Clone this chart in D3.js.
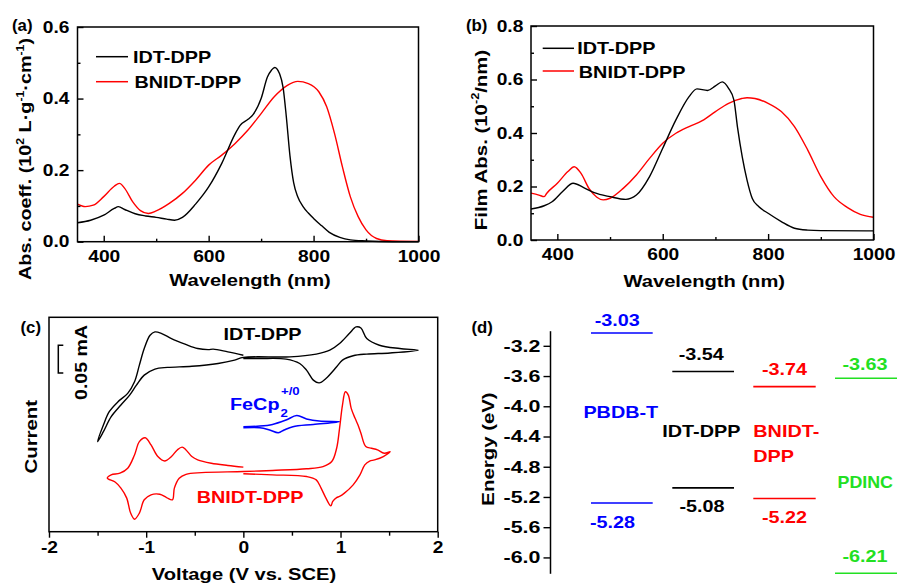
<!DOCTYPE html>
<html><head><meta charset="utf-8">
<script src="https://cdn.jsdelivr.net/npm/d3@7"></script>
<style>
body{margin:0;background:#fff;}
svg{display:block;font-family:"Liberation Sans",Arial,sans-serif;font-weight:bold;}
.tick text{font-size:16px;fill:#000;}
.tick line{stroke:#000;stroke-width:1.4;}
.domain{stroke:#000;stroke-width:1.5;}
.axd .tick text{font-size:16.5px;}
</style></head><body>
<svg id="c" width="897" height="583"></svg>
<script>
// ---------- Panel (a): solution absorption ----------
const wlA_idt = [350,375,400,420,428,440,460,480,500,520,535,550,575,600,625,650,660,675,685,700,712,720,726,735,742,748,755,762,770,780,790,800,815,830,850,870,900,950,1000];
const absA_idt = [0.053,0.060,0.074,0.093,0.098,0.090,0.078,0.072,0.068,0.063,0.060,0.068,0.105,0.153,0.219,0.300,0.325,0.342,0.356,0.400,0.460,0.480,0.487,0.470,0.430,0.350,0.240,0.165,0.125,0.098,0.080,0.065,0.045,0.026,0.012,0.005,0.002,0.000,0.000];
const wlA_bn = [350,365,380,400,420,430,440,455,470,485,500,525,550,575,600,625,650,675,700,725,750,770,790,810,825,840,855,870,885,900,920,940,1000];
const absA_bn = [0.105,0.098,0.102,0.126,0.155,0.163,0.149,0.112,0.087,0.079,0.086,0.107,0.135,0.172,0.214,0.242,0.274,0.312,0.358,0.405,0.437,0.448,0.442,0.419,0.377,0.302,0.209,0.126,0.070,0.033,0.009,0.003,0.001];
const xTicksAB = [400,600,800,1000];
const xMinorAB = [500,700,900];

// ---------- Panel (b): film absorption ----------
const wlB_idt = [350,375,390,410,430,450,470,500,530,550,575,600,625,650,665,685,700,713,725,735,742,751,760,770,782,800,825,850,875,900,1000];
const absB_idt = [0.116,0.128,0.143,0.181,0.212,0.196,0.177,0.162,0.152,0.168,0.237,0.343,0.449,0.536,0.565,0.559,0.576,0.591,0.567,0.524,0.420,0.310,0.224,0.155,0.125,0.100,0.069,0.044,0.037,0.035,0.034];
const wlB_bn = [350,365,375,380,400,420,432,445,460,475,487,500,525,550,575,600,625,650,675,700,725,750,760,775,800,825,850,875,900,925,950,975,1000];
const absB_bn = [0.175,0.168,0.162,0.175,0.212,0.256,0.274,0.249,0.193,0.160,0.150,0.156,0.193,0.243,0.305,0.362,0.399,0.424,0.446,0.480,0.511,0.529,0.532,0.529,0.511,0.480,0.424,0.337,0.237,0.162,0.122,0.096,0.085];

// ---------- Panel (c): cyclic voltammetry (V vs SCE, current in mA, offset) ----------
const cvIdtV = [0.00,-0.16,-0.31,-0.36,-0.47,-0.60,-0.74,-0.84,-0.91,-0.96,-1.02,-1.07,-1.12,-1.19,-1.29,-1.38,-1.44,-1.50,-1.44,-1.36,-1.26,-1.17,-1.10,-1.02,-0.91,-0.78,-0.53,-0.26,-0.09,0.00,0.48,0.75,0.89,0.99,1.09,1.16,1.21,1.27,1.40,1.61,1.80,1.51,1.27,1.13,1.02,0.96,0.85,0.78,0.72,0.65,0.58,0.44,0.17,0.00];
const cvIdtI = [0.117,0.123,0.128,0.127,0.129,0.137,0.147,0.156,0.159,0.153,0.129,0.099,0.069,0.048,0.033,0.015,-0.009,-0.039,-0.021,0.006,0.027,0.045,0.063,0.081,0.092,0.095,0.097,0.102,0.108,0.113,0.114,0.119,0.126,0.138,0.156,0.168,0.166,0.147,0.135,0.129,0.126,0.121,0.119,0.116,0.108,0.096,0.075,0.067,0.072,0.090,0.102,0.110,0.111,0.111];
const cvFcV = [0.00,0.17,0.30,0.44,0.55,0.65,0.78,0.99,0.72,0.51,0.42,0.36,0.27,0.17,0.00];
const cvFcI = [-0.012,-0.011,-0.008,0.000,0.008,0.002,-0.002,-0.003,-0.008,-0.012,-0.018,-0.023,-0.018,-0.014,-0.014];
const cvBnV = [0.00,-0.16,-0.33,-0.47,-0.53,-0.59,-0.63,-0.68,-0.74,-0.81,-0.88,-0.95,-1.01,-1.07,-1.12,-1.19,-1.27,-1.36,-1.40,-1.32,-1.26,-1.20,-1.16,-1.12,-1.07,-1.02,-0.95,-0.86,-0.79,-0.73,-0.71,-0.66,-0.59,-0.43,0.00,0.30,0.65,0.82,0.91,0.96,0.99,1.02,1.05,1.08,1.11,1.15,1.18,1.21,1.26,1.32,1.38,1.45,1.51,1.44,1.35,1.30,1.25,1.20,1.13,1.04,0.99,0.96,0.92,0.90,0.85,0.80,0.75,0.65,0.30,0.00];
const cvBnI = [-0.085,-0.082,-0.078,-0.072,-0.066,-0.054,-0.049,-0.054,-0.066,-0.074,-0.066,-0.045,-0.032,-0.039,-0.063,-0.087,-0.096,-0.099,-0.105,-0.112,-0.123,-0.141,-0.168,-0.179,-0.168,-0.144,-0.135,-0.134,-0.140,-0.144,-0.123,-0.105,-0.098,-0.095,-0.093,-0.091,-0.088,-0.084,-0.075,-0.051,-0.015,0.027,0.051,0.045,0.021,0.003,-0.009,-0.024,-0.048,-0.051,-0.054,-0.060,-0.057,-0.066,-0.072,-0.074,-0.081,-0.099,-0.117,-0.132,-0.138,-0.140,-0.147,-0.155,-0.141,-0.123,-0.108,-0.102,-0.099,-0.097];
const xTicksC = [-2,-1,0,1,2];
const xMinorC = [-1.5,-0.5,0.5,1.5];

// ---------- Panel (d): energy levels ----------
const materials = ["PBDB-T","IDT-DPP","BNIDT-DPP","PDINC"];
const lumo = [-3.03,-3.54,-3.74,-3.63];
const homo = [-5.28,-5.08,-5.22,-6.21];
const levelColors = ["#0000ff","#000000","#ff0000","#22e022"];
const yTicksD = [-3.2,-3.6,-4.0,-4.4,-4.8,-5.2,-5.6,-6.0];

// ================= drawing =================
const svg = d3.select('#c');
const SX = 1.2;
function txt(g,x,y,parts,o={}){
  const size=o.size||16, anchor=o.anchor||'start', fill=o.fill||'#000', rot=o.rot||0, sx=o.sx||SX;
  const t=g.append('text').attr('transform',`translate(${x},${y}) rotate(${rot}) scale(${sx},1)`)
    .attr('text-anchor',anchor).attr('fill',fill).style('font-size',size+'px');
  if(typeof parts==='string') parts=[[parts,'n']];
  let off=0;
  parts.forEach(([s,k])=>{
    const target = k==='sup'? -size*0.42 : k==='sub'? size*0.3 : 0;
    const ts=t.append('tspan').text(s).attr('dy',target-off);
    if(k!=='n') ts.style('font-size',(size*0.62)+'px');
    off=target;
  });
  return t;
}
function fixAxis(sel,left,sx){
  sx=sx||SX;
  sel.attr('font-family',null).attr('font-size',null);
  sel.selectAll('text').each(function(){
    const s=d3.select(this);
    if(left) s.attr('x',(+s.attr('x'))/sx);
    s.attr('transform',`scale(${sx},1)`);
  });
}
function frame(g,x0,y0,x1,y1){
  g.append('rect').attr('x',x0).attr('y',y0).attr('width',x1-x0).attr('height',y1-y0)
   .attr('fill','none').attr('stroke','#000').attr('stroke-width',1.5);
}

function spectrumPanel(opts){
  const g=svg.append('g');
  const x=d3.scaleLinear([350,1000],opts.xr), y=d3.scaleLinear([0,opts.ymax],opts.yr);
  const line=(xs,ys)=>d3.line().curve(d3.curveMonotoneX).x((d,i)=>x(xs[i])).y((d,i)=>y(ys[i]))(xs);
  g.append('path').attr('d',line(opts.bnX,opts.bnY)).attr('fill','none').attr('stroke','#ff0000').attr('stroke-width',1.4);
  g.append('path').attr('d',line(opts.idX,opts.idY)).attr('fill','none').attr('stroke','#000').attr('stroke-width',1.4);
  // axes
  const by=opts.yr[0];
  g.append('g').attr('transform',`translate(0,${by})`).call(d3.axisBottom(x).tickValues(xMinorAB).tickSize(-3).tickFormat('')).call(s=>s.select('.domain').remove());
  const bx=g.append('g').attr('transform',`translate(0,${by})`).call(d3.axisBottom(x).tickValues(xTicksAB).tickSizeInner(-6).tickSizeOuter(0).tickPadding(9).tickFormat(d=>String(d)));
  bx.select('.domain').remove(); fixAxis(bx,false);
  const lx=opts.xr[0];
  g.append('g').attr('transform',`translate(${lx},0)`).call(d3.axisLeft(y).tickValues(opts.yMinor).tickSize(-3).tickFormat('')).call(s=>s.select('.domain').remove());
  const ly=g.append('g').attr('transform',`translate(${lx},0)`).call(d3.axisLeft(y).tickValues(opts.yTicks).tickSizeInner(-6).tickSizeOuter(0).tickPadding(opts.ypad).tickFormat(d=>d.toFixed(1)));
  ly.select('.domain').remove(); fixAxis(ly,true);
  frame(g,opts.xr[0],opts.yr[1],opts.xr[1],opts.yr[0]);
  // legend
  const L=opts.leg;
  g.append('line').attr('x1',L.x0).attr('x2',L.x1).attr('y1',L.y1).attr('y2',L.y1).attr('stroke','#000').attr('stroke-width',1.5);
  g.append('line').attr('x1',L.x0).attr('x2',L.x1).attr('y1',L.y2).attr('y2',L.y2).attr('stroke','#ff0000').attr('stroke-width',1.5);
  txt(g,L.tx,L.y1+6,'IDT-DPP',{size:16.5});
  txt(g,L.tx+1.5,L.y2+6.5,'BNIDT-DPP',{size:16.5});
  txt(g,(opts.xr[0]+opts.xr[1])/2+2,opts.titleY,'Wavelength (nm)',{size:16.8,anchor:'middle'});
  txt(g,opts.ytX,opts.ytY,opts.ytitle,{size:opts.ytSize||17,anchor:'middle',rot:-90});
  txt(g,opts.lab[0],opts.lab[1],opts.lab[2],{size:16,sx:1.05});
  return g;
}

spectrumPanel({xr:[77.5,418.5],yr:[241.7,27],ymax:0.6,yTicks:[0,0.2,0.4,0.6],yMinor:[0.1,0.3,0.5],ypad:8,
  idX:wlA_idt,idY:absA_idt,bnX:wlA_bn,bnY:absA_bn,
  leg:{x0:96,x1:128,y1:56.7,y2:81.7,tx:133},titleY:286,
  ytX:31,ytY:159,ytSize:16.5,ytitle:[['Abs. coeff. (10','n'],['2','sup'],[' L·g','n'],['-1','sup'],['·cm','n'],['-1','sup'],[')','n']],
  lab:[12,31,'(a)']});
spectrumPanel({xr:[531,873.5],yr:[240,26],ymax:0.8,yTicks:[0,0.2,0.4,0.6,0.8],yMinor:[0.1,0.3,0.5,0.7],ypad:7.7,
  idX:wlB_idt,idY:absB_idt,bnX:wlB_bn,bnY:absB_bn,
  leg:{x0:542.7,x1:574,y1:48.3,y2:71,tx:577.3},titleY:286.5,
  ytX:486.5,ytY:140,ytitle:[['Film Abs. (10','n'],['-2','sup'],['/nm)','n']],
  lab:[466,31,'(b)']});

// ---- Panel (c)
(function(){
  const g=svg.append('g');
  const x=d3.scaleLinear([-2,2],[49,437.7]), y=d3.scaleLinear([-0.2016,0.1854],[531.7,317.3]);
  const line=(vs,is)=>d3.line().curve(d3.curveCatmullRom.alpha(0.5)).x((d,i)=>x(vs[i])).y((d,i)=>y(is[i]))(vs);
  g.append('path').attr('d',line(cvIdtV,cvIdtI)).attr('fill','none').attr('stroke','#000').attr('stroke-width',1.4);
  g.append('path').attr('d',line(cvFcV,cvFcI)).attr('fill','none').attr('stroke','#0000ff').attr('stroke-width',1.5);
  g.append('path').attr('d',line(cvBnV,cvBnI)).attr('fill','none').attr('stroke','#ff0000').attr('stroke-width',1.4);
  const by=531.7;
  g.append('g').attr('transform',`translate(0,${by})`).call(d3.axisBottom(x).tickValues(xMinorC).tickSize(4).tickFormat('')).call(s=>s.select('.domain').remove());
  const bx=g.append('g').attr('transform',`translate(0,${by})`).call(d3.axisBottom(x).tickValues(xTicksC).tickSizeInner(6).tickSizeOuter(0).tickPadding(4).tickFormat(d=>String(d)));
  bx.select('.domain').remove(); fixAxis(bx,false);
  frame(g,49,317.3,437.7,531.7);
  // scale bar 0.05 mA
  const yb0=y(0.135), yb1=y(0.085);
  g.append('path').attr('d',`M63.3,${yb0}H58.3V${yb1}H63.3`).attr('fill','none').attr('stroke','#000').attr('stroke-width',1.5);
  txt(g,87,362.5,'0.05 mA',{size:16.3,anchor:'middle',rot:-90});
  txt(g,36.5,436.7,'Current',{size:17,anchor:'middle',rot:-90});
  txt(g,244,580,'Voltage (V vs. SCE)',{size:16.8,anchor:'middle'});
  txt(g,262.5,340,'IDT-DPP',{size:16.5,anchor:'middle'});
  txt(g,250,503.3,'BNIDT-DPP',{size:16.5,anchor:'middle',fill:'#ff0000'});
  txt(g,230,410,'FeCp',{size:16.5,fill:'#0000ff'});
  txt(g,280.5,416.5,'2',{size:11,fill:'#0000ff'});
  txt(g,281,395,'+/0',{size:11,fill:'#0000ff'});
  txt(g,20.5,333,'(c)',{size:16,sx:1.05});
})();

// ---- Panel (d)
(function(){
  const g=svg.append('g');
  const y=d3.scaleLinear([-3.0,-6.21],[330.7,573.3]);
  const ax=g.append('g').attr('class','axd').attr('transform','translate(550,0)').call(d3.axisLeft(y).tickValues(yTicksD).tickSizeInner(6.5).tickSizeOuter(0).tickPadding(3).tickFormat(d=>d.toFixed(1)));
  fixAxis(ax,true,1.3);
  txt(g,494.3,449,'Energy (eV)',{size:17,anchor:'middle',rot:-90});
  txt(g,471.5,333,'(d)',{size:16,sx:1.05});
  const x0=[591,672.3,753.3,835], w=[61.7,61.7,62.4,70];
  const lumoLab=[[617.2,326],[701.3,360],[784.5,375],[865,370]];
  const homoLab=[[612.5,528.3],[702,511.7],[784.5,522.7],[865,561.7]];
  materials.forEach((m,i)=>{
    const c=levelColors[i];
    g.append('line').attr('x1',x0[i]).attr('x2',x0[i]+w[i]).attr('y1',y(lumo[i])).attr('y2',y(lumo[i])).attr('stroke',c).attr('stroke-width',1.6);
    g.append('line').attr('x1',x0[i]).attr('x2',x0[i]+w[i]).attr('y1',y(homo[i])).attr('y2',y(homo[i])).attr('stroke',c).attr('stroke-width',1.6);
    txt(g,lumoLab[i][0],lumoLab[i][1],lumo[i].toFixed(2),{size:16.5,anchor:'middle',fill:c});
    txt(g,homoLab[i][0],homoLab[i][1],homo[i].toFixed(2),{size:16.5,anchor:'middle',fill:c});
  });
  txt(g,620.8,418.3,materials[0],{size:16.5,anchor:'middle',fill:levelColors[0]});
  txt(g,701.3,436.7,materials[1],{size:16.5,anchor:'middle',fill:levelColors[1]});
  txt(g,753.3,436.7,'BNIDT-',{size:16.5,fill:levelColors[2]});
  txt(g,753.3,461.7,'DPP',{size:16.5,fill:levelColors[2]});
  txt(g,837.5,488.3,materials[3],{size:16.2,sx:1.1,fill:levelColors[3]});
})();
</script></body></html>
